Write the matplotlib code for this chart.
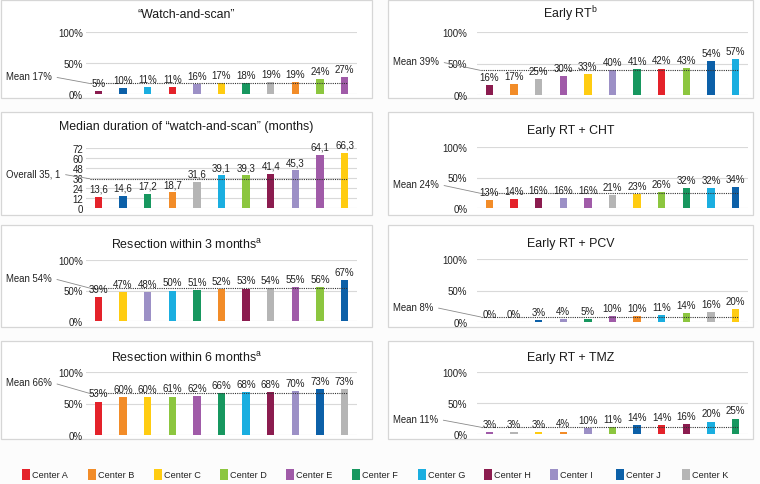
import matplotlib
matplotlib.use("Agg")
import matplotlib.pyplot as plt
from matplotlib.patches import Rectangle

plt.rcParams['font.family'] = ['Liberation Sans', 'DejaVu Sans']
plt.rcParams['mathtext.fontset'] = 'custom'
plt.rcParams['mathtext.rm'] = 'Liberation Sans'
plt.rcParams['mathtext.it'] = 'Liberation Sans:italic'

# ---------------- data ----------------
center_keys = ["A", "B", "C", "D", "E", "F", "G", "H", "I", "J", "K"]
center_names = ["Center " + k for k in center_keys]
center_colors = ["#E4222A", "#F28C28", "#FFCC11", "#8CC63F", "#A05BA8", "#17975F",
                 "#1AAEE0", "#8B1C4F", "#9C90C6", "#0C60A8", "#B5B5B5"]

ws_centers = ["H", "J", "G", "A", "I", "C", "F", "K", "B", "D", "E"]
ws_values = [5, 10, 11, 11, 16, 17, 18, 19, 19, 24, 27]
ws_mean = 17

rt_centers = ["H", "B", "K", "E", "C", "I", "F", "A", "D", "J", "G"]
rt_values = [16, 17, 25, 30, 33, 40, 41, 42, 43, 54, 57]
rt_mean = 39

dur_centers = ["A", "J", "F", "B", "K", "G", "D", "H", "I", "E", "C"]
dur_values = [13.6, 14.6, 17.2, 18.7, 31.6, 39.1, 39.3, 41.4, 45.3, 64.1, 66.3]
dur_mean = 35.1

cht_centers = ["B", "A", "H", "I", "E", "K", "C", "D", "F", "G", "J"]
cht_values = [13, 14, 16, 16, 16, 21, 23, 26, 32, 32, 34]
cht_mean = 24

r3_centers = ["A", "C", "I", "G", "F", "B", "H", "K", "E", "D", "J"]
r3_values = [39, 47, 48, 50, 51, 52, 53, 54, 55, 56, 67]
r3_mean = 54

pcv_centers = ["A", "H", "J", "I", "F", "E", "B", "G", "D", "K", "C"]
pcv_values = [0, 0, 3, 4, 5, 10, 10, 11, 14, 16, 20]
pcv_mean = 8

r6_centers = ["A", "B", "C", "D", "E", "F", "G", "H", "I", "J", "K"]
r6_values = [53, 60, 60, 61, 62, 66, 68, 68, 70, 73, 73]
r6_mean = 66

tmz_centers = ["E", "K", "C", "B", "I", "D", "J", "A", "H", "G", "F"]
tmz_values = [3, 3, 3, 4, 10, 11, 14, 14, 16, 20, 25]
tmz_mean = 11

color_of = dict(zip(center_keys, center_colors))

W, H = 760, 485
fig = plt.figure(figsize=(W / 100, H / 100), dpi=100)
fig.patch.set_facecolor("#FCFCFC")


def add_box(l, t, r, b):
    fig.add_artist(Rectangle((l / W, 1 - b / H), (r - l) / W, (b - t) / H,
                             transform=fig.transFigure, facecolor="white",
                             edgecolor="#D6D6D6", lw=0.9, zorder=0))


def panel(box, axpx, title_y, title, centers, values, mean, mean_label,
          dy, left_col, pct=True, ymax=100, yticks=(0, 50, 100)):
    bl, bt, br, bb = box
    add_box(bl, bt, br, bb)
    fig.text(((bl + br) / 2) / W, 1 - title_y / H, title, ha="center",
             va="center", fontsize=8.9, color="#1a1a1a")
    l, t, r, b = axpx
    ax = fig.add_axes([l / W, 1 - b / H, (r - l) / W, (b - t) / H])
    ax.set_facecolor("none")
    ax.set_xlim(-0.5, 10.5)
    ax.set_ylim(0, ymax)
    ax.set_yticks(list(yticks))
    if pct:
        ax.set_yticklabels([f"{v}%" for v in yticks])
    else:
        ax.set_yticklabels([str(v) for v in yticks])
    ax.set_xticks([])
    for s in ax.spines.values():
        s.set_visible(False)
    ax.grid(axis="y", color="#D9D9D9", lw=0.8, zorder=0)
    ax.set_axisbelow(True)
    ax.tick_params(length=0, labelsize=7, colors="#222222",
                   pad=2 if left_col else 7)
    xs = list(range(len(values)))
    ax.bar(xs, values, width=0.3, color=[color_of[c] for c in centers], zorder=3)
    for x, v in zip(xs, values):
        lab = f"{v}%" if pct else f"{v}".replace(".", ",")
        ax.annotate(lab, (x, v), xytext=(0, 2.3), textcoords="offset points",
                    ha="center", va="bottom", fontsize=7, color="#222222",
                    zorder=5)
    ax.hlines(mean, -0.35, 10.1, colors="#333333", linestyles=(0, (1, 1)),
              lw=0.8, zorder=4)
    xoff = -84 if left_col else -88
    ax.annotate(mean_label, xy=(-0.35, mean), xytext=(xoff, dy),
                textcoords="offset pixels", ha="left", va="center",
                fontsize=6.9, color="#222222",
                arrowprops=dict(arrowstyle="-", color="#8A8A8A", lw=0.6,
                                relpos=(1, 0.5), shrinkA=2, shrinkB=0))
    return ax


LB = (1, 372)
RB = (388, 753)
LA = (86, 357)
RA = (477, 748)

panel((LB[0], 1, LB[1], 99), (LA[0], 33, LA[1], 95), 15,
      "\u201cWatch-and-scan\u201d", ws_centers, ws_values, ws_mean,
      f"Mean {ws_mean}%", 7, True)
panel((RB[0], 1, RB[1], 99), (RA[0], 33, RA[1], 96), 14,
      "Early RT$^{\\mathrm{b}}$", rt_centers, rt_values, rt_mean,
      f"Mean {rt_mean}%", 9, False)
panel((LB[0], 113, LB[1], 216), (LA[0], 149, LA[1], 209), 127,
      "Median duration of \u201cwatch-and-scan\u201d (months)", dur_centers,
      dur_values, dur_mean, "Overall 35, 1", 5, True, pct=False, ymax=72,
      yticks=(0, 12, 24, 36, 48, 60, 72))
panel((RB[0], 113, RB[1], 216), (RA[0], 148, RA[1], 209), 131,
      "Early RT + CHT", cht_centers, cht_values, cht_mean,
      f"Mean {cht_mean}%", 9, False)
panel((LB[0], 226, LB[1], 328), (LA[0], 261, LA[1], 322), 245,
      "Resection within 3 months$^{\\mathrm{a}}$", r3_centers, r3_values,
      r3_mean, f"Mean {r3_mean}%", 10, True)
panel((RB[0], 226, RB[1], 328), (RA[0], 260, RA[1], 323), 244,
      "Early RT + PCV", pcv_centers, pcv_values, pcv_mean,
      f"Mean {pcv_mean}%", 10, False)
panel((LB[0], 342, LB[1], 440), (LA[0], 373, LA[1], 436), 358,
      "Resection within 6 months$^{\\mathrm{a}}$", r6_centers, r6_values,
      r6_mean, f"Mean {r6_mean}%", 11, True)
panel((RB[0], 342, RB[1], 440), (RA[0], 373, RA[1], 435), 358,
      "Early RT + TMZ", tmz_centers, tmz_values, tmz_mean,
      f"Mean {tmz_mean}%", 8, False)

# legend
for i, (name, col) in enumerate(zip(center_names, center_colors)):
    x0 = 22 + i * 66
    fig.add_artist(Rectangle((x0 / W, 1 - 481 / H), 8 / W, 11 / H,
                             transform=fig.transFigure, facecolor=col,
                             edgecolor="none"))
    fig.text((x0 + 10) / W, 1 - 476 / H, name, ha="left", va="center",
             fontsize=6.6, color="#222222")

fig.savefig("out.png", dpi=100, facecolor=fig.get_facecolor())
